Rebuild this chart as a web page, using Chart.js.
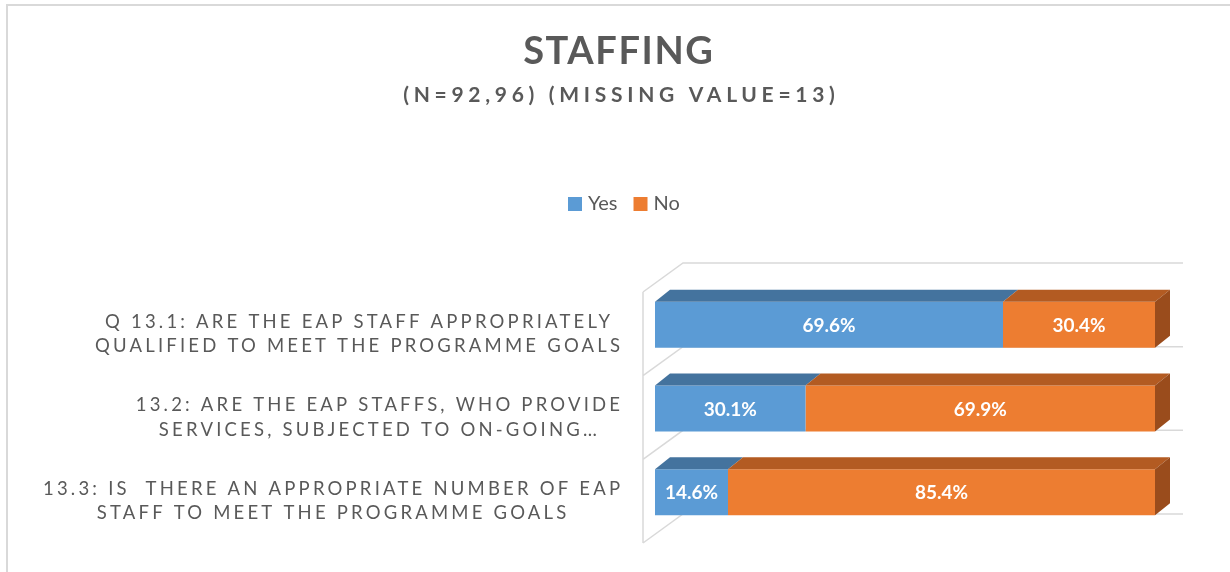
<!DOCTYPE html>
<html>
<head>
<meta charset="utf-8">
<script src="https://cdn.jsdelivr.net/npm/chart.js@4.4.1/dist/chart.umd.min.js"></script>
<style>
  body { margin: 0; background: #fff; }
  canvas { display: block; }
</style>
</head>
<body>
<canvas id="grafica" width="1230" height="572"></canvas>
<script>
// datos del grafico
const categorias = [
  ['Q 13.1: ARE THE EAP STAFF APPROPRIATELY', 'QUALIFIED TO MEET THE PROGRAMME GOALS'],
  ['13.2: ARE THE EAP STAFFS, WHO PROVIDE', 'SERVICES, SUBJECTED TO ON-GOING\u2026'],
  ['13.3: IS  THERE AN APPROPRIATE NUMBER OF EAP', 'STAFF TO MEET THE PROGRAMME GOALS']
];
const valoresYes = [69.6, 30.1, 14.6];
const valoresNo = [30.4, 69.9, 85.4];
const series = ['Yes', 'No'];

const titulo = 'STAFFING';
const subtitulo = '(N=92,96) (MISSING VALUE=13)';

const colorTexto = '#595959';
const colorGrid = '#d9d9d9';
const colores = ['#5B9BD5', '#ED7D31'];
const coloresArriba = ['#44739E', '#B35B22'];
const colorLado = '#9A4C1C';

// profundidad 3d de las barras y del fondo
const prof = { dx: 15, dy: -12 };
const frente = { dx: -12, dy: 9 };
const fondo = { dx: 40, dy: -29 };

function texto(ctx, str, x, y, font, color, spacing, align) {
  ctx.save();
  ctx.font = font;
  ctx.fillStyle = color;
  ctx.letterSpacing = spacing + 'px';
  ctx.textBaseline = 'middle';
  const w = ctx.measureText(str).width - spacing;
  let x0 = x;
  if (align === 'center') x0 = x - w / 2;
  if (align === 'right') x0 = x - w;
  ctx.textAlign = 'left';
  ctx.fillText(str, x0, y);
  ctx.restore();
  return w;
}

const plugin3d = {
  id: 'plugin3d',
  beforeDraw(chart) {
    const ctx = chart.ctx;
    ctx.save();
    ctx.fillStyle = '#fff';
    ctx.fillRect(0, 0, chart.width, chart.height);
    // marco
    ctx.strokeStyle = colorGrid;
    ctx.lineWidth = 2;
    ctx.beginPath();
    ctx.moveTo(7, chart.height);
    ctx.lineTo(7, 5);
    ctx.lineTo(chart.width, 5);
    ctx.stroke();
    ctx.restore();

    texto(ctx, titulo, 618, 52, 'bold 38px Lato', colorTexto, 1.6, 'center');
    texto(ctx, subtitulo, 619, 95, 'bold 21px Lato', colorTexto, 4.7, 'center');

    // leyenda
    let lx = 568;
    const ly = 204;
    series.forEach((s, i) => {
      ctx.fillStyle = colores[i];
      ctx.fillRect(lx, ly - 7, 14, 14);
      const w = texto(ctx, s, lx + 20, ly, '20px Lato', colorTexto, 0, 'left');
      lx += 20 + w + 16;
    });
  },
  beforeDatasetsDraw(chart) {
    const ctx = chart.ctx;
    const a = chart.chartArea;
    const paso = (a.bottom - a.top) / categorias.length;
    const xf = a.left + frente.dx;
    const xb = xf + fondo.dx;
    const xr = a.right + frente.dx + fondo.dx;
    ctx.save();
    ctx.strokeStyle = colorGrid;
    ctx.lineWidth = 1.5;
    ctx.beginPath();
    ctx.moveTo(xf, a.top + frente.dy);
    ctx.lineTo(xf, a.bottom + frente.dy);
    for (let k = 0; k <= categorias.length; k++) {
      const yk = a.top + k * paso + frente.dy;
      ctx.moveTo(xf, yk);
      ctx.lineTo(xb, yk + fondo.dy);
      ctx.lineTo(xr, yk + fondo.dy);
    }
    ctx.stroke();
    ctx.restore();
  },
  afterDatasetsDraw(chart) {
    const ctx = chart.ctx;
    const ultimo = chart.data.datasets.length - 1;
    ctx.save();
    chart.data.datasets.forEach((ds, i) => {
      chart.getDatasetMeta(i).data.forEach((bar) => {
        const top = bar.y - bar.height / 2;
        const bot = bar.y + bar.height / 2;
        ctx.fillStyle = coloresArriba[i];
        ctx.beginPath();
        ctx.moveTo(bar.base, top);
        ctx.lineTo(bar.x, top);
        ctx.lineTo(bar.x + prof.dx, top + prof.dy);
        ctx.lineTo(bar.base + prof.dx, top + prof.dy);
        ctx.closePath();
        ctx.fill();
        if (i === ultimo) {
          ctx.fillStyle = colorLado;
          ctx.beginPath();
          ctx.moveTo(bar.x, top);
          ctx.lineTo(bar.x + prof.dx, top + prof.dy);
          ctx.lineTo(bar.x + prof.dx, bot + prof.dy);
          ctx.lineTo(bar.x, bot);
          ctx.closePath();
          ctx.fill();
        }
      });
    });
    ctx.restore();

    // etiquetas de valores
    chart.data.datasets.forEach((ds, i) => {
      chart.getDatasetMeta(i).data.forEach((bar, j) => {
        const cx = (bar.base + bar.x) / 2;
        texto(ctx, ds.data[j].toFixed(1) + '%', cx, bar.y + 1, 'bold 19px Lato', '#fff', 0, 'center');
      });
    });

    // etiquetas de categorias
    const ys = chart.scales.y;
    const fuente = '18.5px Lato';
    const esp = 3.2;
    categorias.forEach((lineas, i) => {
      const cy = ys.getPixelForTick(i) + frente.dy;
      ctx.save();
      ctx.font = fuente;
      ctx.letterSpacing = esp + 'px';
      const maxW = Math.max(...lineas.map(l => ctx.measureText(l).width - esp));
      ctx.restore();
      const cx = 620 - maxW / 2;
      const lh = 24.5;
      lineas.forEach((l, k) => {
        const y = cy + (k - (lineas.length - 1) / 2) * lh;
        texto(ctx, l, cx, y, fuente, colorTexto, esp, 'center');
      });
    });
  }
};

new Chart(document.getElementById('grafica'), {
  type: 'bar',
  data: {
    labels: categorias,
    datasets: [
      { label: series[0], data: valoresYes, backgroundColor: colores[0], borderWidth: 0 },
      { label: series[1], data: valoresNo, backgroundColor: colores[1], borderWidth: 0 }
    ]
  },
  options: {
    indexAxis: 'y',
    responsive: false,
    animation: false,
    events: [],
    barPercentage: 0.55,
    categoryPercentage: 1.0,
    layout: { padding: { left: 655, right: 75, top: 283, bottom: 38 } },
    scales: {
      x: { stacked: true, min: 0, max: 100, display: false },
      y: { stacked: true, display: false }
    },
    plugins: {
      legend: { display: false },
      title: { display: false },
      tooltip: { enabled: false }
    }
  },
  plugins: [plugin3d]
});
</script>
</body>
</html>
